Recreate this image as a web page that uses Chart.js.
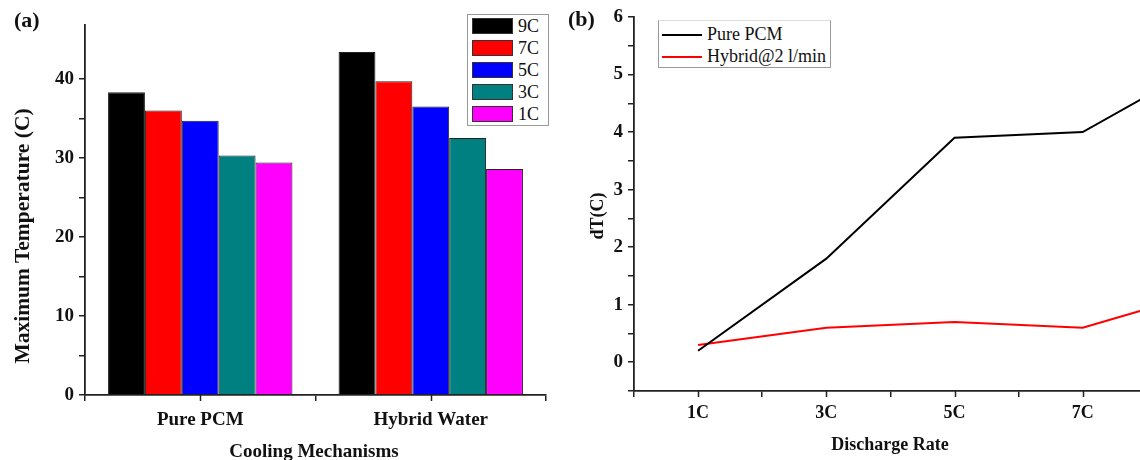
<!DOCTYPE html>
<html>
<head>
<meta charset="utf-8">
<script src="https://cdn.jsdelivr.net/npm/chart.js@4.4.0/dist/chart.umd.min.js"></script>
<style>
  html, body { margin: 0; padding: 0; background: #fff; overflow: hidden; }
  #page { position: relative; width: 1140px; height: 460px; overflow: hidden; font-family: 'Liberation Serif', 'Times New Roman', serif; color: #111; }
  canvas { position: absolute; top: 0; }
  #chartA { left: 0; }
  #chartB { left: 570px; }
  .txt { position: absolute; white-space: nowrap; font-weight: bold; line-height: 1; }
  .panel { font-size: 22px; }
  .vtitle { transform: translate(-50%, -50%) rotate(-90deg); }
  .htitle { transform: translate(-50%, -50%); }
  .legend { position: absolute; border: 1px solid #999; background: #fff; font-size: 18px; }
  .legend .row { position: absolute; left: 0; white-space: nowrap; line-height: 1; }
  .legend .sw { position: absolute; border: 1px solid #333; box-sizing: border-box; }
  .legend .ln { position: absolute; height: 2px; }
  .legend .lb { position: absolute; top: 0; }
</style>
</head>
<body>
<div id="page">
  <canvas id="chartA" width="570" height="460"></canvas>
  <canvas id="chartB" width="720" height="460"></canvas>
  <div class="txt panel" style="left:14px; top:9px;">(a)</div>
  <div class="txt panel" style="left:568px; top:8px;">(b)</div>
  <div class="txt vtitle" style="left:23px; top:236px; font-size:21.5px;">Maximum Temperature (C)</div>
  <div class="txt htitle" style="left:314px; top:450px; font-size:19px;">Cooling Mechanisms</div>
  <div class="txt vtitle" style="left:597px; top:216px; font-size:18px;">dT(C)</div>
  <div class="txt htitle" style="left:890px; top:444px; font-size:18px;">Discharge Rate</div>
  <div class="legend" id="legendA" style="left:467px; top:14px; width:80px; height:110px;"></div>
  <div class="legend" id="legendB" style="left:658px; top:20px; width:171px; height:46px; border-top-color:#ddd;"></div>
</div>
<script>
// (a) maximum temperature per cooling mechanism
const groups = ['Pure PCM', 'Hybrid Water'];
const rateNames = ['9C', '7C', '5C', '3C', '1C'];
const rateColors = ['#000000', '#ff0000', '#0000ff', '#008080', '#ff00ff'];
const pureTemps = [38.3, 36.0, 34.7, 30.3, 29.4];
const hybridTemps = [43.4, 39.7, 36.5, 32.5, 28.6];

// (b) temperature difference vs discharge rate
const rates = ['1C', '3C', '5C', '7C', '9C'];
const pureDT = [0.2, 1.8, 3.9, 4.0, 5.25];
const hybridDT = [0.3, 0.6, 0.7, 0.6, 1.25];
const lineNames = ['Pure PCM', 'Hybrid@2 l/min'];
const lineColors = ['#000000', '#ff0000'];

const axisColor = '#222';
const serif = "'Liberation Serif', 'Times New Roman', serif";

// Origin style: ticks under each category as well as between them
const centreTicks = {
  id: 'centreTicks',
  afterDraw(chart) {
    const x = chart.scales.x;
    const ctx = chart.ctx;
    ctx.save();
    ctx.strokeStyle = axisColor;
    ctx.lineWidth = 1.5;
    x.getLabels().forEach((l, i) => {
      const px = Math.round(x.getPixelForValue(i)) + 0.5;
      ctx.beginPath();
      ctx.moveTo(px, x.top);
      ctx.lineTo(px, x.top + 6);
      ctx.stroke();
    });
    ctx.restore();
  },
};

const keepSteps = (step) => (scale) => {
  scale.ticks = scale.ticks.filter((t) => Math.abs(t.value / step - Math.round(t.value / step)) < 1e-6);
};

const axisBits = {
  grid: { drawOnChartArea: false, drawTicks: true, tickLength: 6, color: axisColor, lineWidth: 1.5 },
  border: { display: true, color: axisColor, width: 1.8 },
};

// eslint-disable-next-line no-undef
new Chart(document.getElementById('chartA'), {
  type: 'bar',
  data: {
    labels: groups,
    datasets: rateNames.map((name, i) => ({
      label: name,
      data: [pureTemps[i], hybridTemps[i]],
      backgroundColor: rateColors[i],
      borderColor: '#222',
      borderWidth: 1,
      categoryPercentage: 0.8,
      barPercentage: 1.0,
    })),
  },
  plugins: [centreTicks],
  options: {
    responsive: false,
    animation: false,
    layout: { padding: { top: 25, right: 24, left: 0, bottom: 0 } },
    plugins: { legend: { display: false }, tooltip: { enabled: false } },
    scales: {
      x: {
        offset: true,
        grid: { ...axisBits.grid, offset: true },
        border: axisBits.border,
        ticks: { color: '#111', padding: 8, font: { family: serif, size: 19, weight: 'bold' } },
        afterFit: (s) => { s.height = 65; },
      },
      y: {
        min: 0,
        max: 46.8,
        afterBuildTicks: keepSteps(5),
        grid: axisBits.grid,
        border: axisBits.border,
        ticks: {
          stepSize: 5,
          autoSkip: false,
          padding: 5,
          color: '#111',
          font: { family: serif, size: 19, weight: 'bold' },
          callback: (v) => (v % 10 === 0 ? v : ''),
        },
        afterFit: (s) => { s.width = 85; },
      },
    },
  },
});

// eslint-disable-next-line no-undef
new Chart(document.getElementById('chartB'), {
  type: 'line',
  data: {
    labels: rates,
    datasets: [pureDT, hybridDT].map((vals, i) => ({
      label: lineNames[i],
      data: vals,
      borderColor: lineColors[i],
      borderWidth: 2,
      pointRadius: 0,
      tension: 0,
      fill: false,
    })),
  },
  plugins: [centreTicks],
  options: {
    responsive: false,
    animation: false,
    layout: { padding: { top: 17, right: 15, left: 0, bottom: 0 } },
    plugins: { legend: { display: false }, tooltip: { enabled: false } },
    scales: {
      x: {
        offset: true,
        grid: { ...axisBits.grid, offset: true },
        border: axisBits.border,
        ticks: { color: '#111', padding: 6, font: { family: serif, size: 18, weight: 'bold' } },
        afterFit: (s) => { s.height = 69; },
      },
      y: {
        min: -0.5,
        max: 6,
        afterBuildTicks: keepSteps(0.5),
        grid: axisBits.grid,
        border: axisBits.border,
        ticks: {
          stepSize: 0.5,
          autoSkip: false,
          padding: 5,
          color: '#111',
          font: { family: serif, size: 19, weight: 'bold' },
          callback: (v) => (v >= 0 && Math.abs(v - Math.round(v)) < 1e-6 ? Math.round(v) : ''),
        },
        afterFit: (s) => { s.width = 64; },
      },
    },
  },
});

// legends built from the same arrays
const legendA = document.getElementById('legendA');
rateNames.forEach((name, i) => {
  const row = document.createElement('div');
  row.className = 'row';
  row.style.top = `${3 + i * 22}px`;
  row.innerHTML = `<span class="sw" style="left:4px; top:0; width:41px; height:16px; background:${rateColors[i]}"></span>`
    + `<span class="lb" style="left:50px; top:-1px;">${name}</span>`;
  legendA.appendChild(row);
});

const legendB = document.getElementById('legendB');
lineNames.forEach((name, i) => {
  const row = document.createElement('div');
  row.className = 'row';
  row.style.top = `${3 + i * 22}px`;
  row.innerHTML = `<span class="ln" style="left:3px; top:10px; width:40px; background:${lineColors[i]}"></span>`
    + `<span class="lb" style="left:48px; top:1px;">${name}</span>`;
  legendB.appendChild(row);
});
</script>
</body>
</html>
